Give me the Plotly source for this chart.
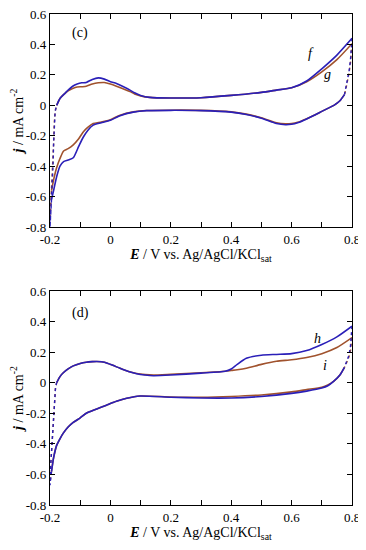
import plotly.graph_objects as go

# ---------------- Data ----------------
# Panel (c): curves f (blue) and g (brown)
c_ano_E = [-0.178, -0.167, -0.155, -0.14, -0.125, -0.11, -0.095, -0.08, -0.06, -0.04, -0.02, 0.0, 0.02, 0.04,
           0.065, 0.08, 0.1, 0.13, 0.2, 0.3, 0.4, 0.5, 0.55, 0.6, 0.65, 0.7, 0.75, 0.8]
f_ano_j = [0.0, 0.045, 0.07, 0.1, 0.125, 0.14, 0.148, 0.15, 0.17, 0.18, 0.172, 0.155, 0.143, 0.125,
           0.1, 0.082, 0.065, 0.052, 0.048, 0.05, 0.065, 0.085, 0.1, 0.115, 0.16, 0.24, 0.33, 0.44]
g_ano_j = [0.0, 0.045, 0.07, 0.095, 0.11, 0.12, 0.122, 0.125, 0.14, 0.148, 0.15, 0.14, 0.126, 0.11,
           0.09, 0.075, 0.062, 0.052, 0.048, 0.05, 0.065, 0.085, 0.1, 0.115, 0.155, 0.22, 0.3, 0.405]

c_cat_E = [0.775, 0.76, 0.74, 0.72, 0.7, 0.68, 0.65, 0.62, 0.6, 0.58, 0.55, 0.5, 0.45, 0.4, 0.3, 0.2, 0.12,
           0.076, 0.032, 0.0, -0.03, -0.057, -0.075, -0.09, -0.105, -0.123, -0.14, -0.155, -0.167, -0.178, -0.187, -0.195]
f_cat_j = [0.07, 0.03, 0.0, -0.02, -0.04, -0.06, -0.09, -0.115, -0.125, -0.128, -0.12, -0.085, -0.06, -0.045,
           -0.035, -0.033, -0.035, -0.045, -0.068, -0.098, -0.115, -0.13, -0.165, -0.21, -0.27, -0.345, -0.36,
           -0.37, -0.4, -0.47, -0.55, -0.62]
g_cat_j = [0.07, 0.03, 0.0, -0.02, -0.04, -0.06, -0.088, -0.112, -0.12, -0.122, -0.115, -0.082, -0.058, -0.043,
           -0.033, -0.032, -0.034, -0.043, -0.065, -0.095, -0.11, -0.12, -0.145, -0.175, -0.22, -0.26, -0.285,
           -0.3, -0.35, -0.41, -0.48, -0.56]

c_left_E = [-0.195, -0.2, -0.199, -0.195, -0.19, -0.188, -0.186, -0.183, -0.178]
f_left_j = [-0.62, -0.8, -0.7, -0.55, -0.4, -0.25, -0.12, -0.04, 0.0]
g_left_j = [-0.56, -0.75, -0.65, -0.52, -0.4, -0.25, -0.12, -0.04, 0.0]
c_right_E = [0.8, 0.798, 0.795, 0.79, 0.785, 0.78, 0.775]
f_right_j = [0.44, 0.38, 0.3, 0.22, 0.16, 0.11, 0.07]
g_right_j = [0.405, 0.35, 0.28, 0.21, 0.15, 0.11, 0.07]

# Panel (d): curves h (blue) and i (brown)
d_ano_E = [-0.178, -0.167, -0.156, -0.14, -0.123, -0.1, -0.08, -0.06, -0.045, -0.03, -0.01, 0.01, 0.032, 0.06,
           0.087, 0.115, 0.142, 0.2, 0.3, 0.38, 0.4, 0.42, 0.45, 0.5, 0.55, 0.6, 0.65, 0.7, 0.75, 0.8]
h_ano_j = [0.0, 0.04, 0.065, 0.09, 0.11, 0.126, 0.134, 0.138, 0.139, 0.137, 0.128, 0.112, 0.094, 0.073,
           0.058, 0.05, 0.046, 0.05, 0.063, 0.075, 0.09, 0.12, 0.16, 0.18, 0.185, 0.19, 0.21, 0.25, 0.3, 0.37]
i_ano_j = [0.0, 0.04, 0.065, 0.09, 0.11, 0.126, 0.134, 0.138, 0.139, 0.137, 0.128, 0.112, 0.094, 0.073,
           0.06, 0.053, 0.05, 0.055, 0.065, 0.075, 0.08, 0.085, 0.095, 0.12, 0.14, 0.15, 0.165, 0.19, 0.23, 0.295]

d_cat_E = [0.775, 0.76, 0.74, 0.72, 0.7, 0.65, 0.6, 0.5, 0.4, 0.3, 0.2, 0.098, 0.054, 0.02, -0.012, -0.05,
           -0.08, -0.1, -0.123, -0.14, -0.156, -0.168, -0.178, -0.188, -0.195]
h_cat_j = [0.1, 0.05, 0.01, -0.02, -0.035, -0.055, -0.07, -0.09, -0.1, -0.1, -0.095, -0.087, -0.102, -0.122,
           -0.146, -0.175, -0.2, -0.23, -0.26, -0.29, -0.33, -0.37, -0.41, -0.49, -0.58]
i_cat_j = [0.1, 0.05, 0.01, -0.015, -0.03, -0.045, -0.06, -0.08, -0.09, -0.095, -0.093, -0.087, -0.102, -0.122,
           -0.146, -0.175, -0.2, -0.23, -0.26, -0.29, -0.33, -0.37, -0.41, -0.49, -0.58]

d_left_E = [-0.195, -0.2, -0.198, -0.193, -0.188, -0.185, -0.182, -0.178]
h_left_j = [-0.58, -0.67, -0.55, -0.4, -0.25, -0.12, -0.04, 0.0]
i_left_j = [-0.58, -0.65, -0.55, -0.4, -0.25, -0.12, -0.04, 0.0]
d_right_E = [0.8, 0.798, 0.795, 0.79, 0.785, 0.78, 0.775]
h_right_j = [0.37, 0.3, 0.24, 0.18, 0.15, 0.12, 0.1]
i_right_j = [0.295, 0.25, 0.21, 0.17, 0.14, 0.12, 0.1]

x_tickvals = [-0.2, 0, 0.2, 0.4, 0.6, 0.8]
x_ticktext = ["-0.2", "0", "0.2", "0.4", "0.6", "0.8"]
x_minor = [-0.1, 0.1, 0.3, 0.5, 0.7]
y_tickvals = [-0.8, -0.6, -0.4, -0.2, 0, 0.2, 0.4, 0.6]
y_ticktext = ["-0.8", "-0.6", "-0.4", "-0.2", "0", "0.2", "0.4", "0.6"]

BLUE = "#2a1fb8"
BROWN = "#a0522d"
FONT = "Liberation Serif, Times New Roman, DejaVu Serif, serif"

fig = go.Figure()


def add_curve(xa, ya, ano_E, ano_j, cat_E, cat_j, left_E, left_j, right_E, right_j, color):
    fig.add_trace(go.Scatter(x=ano_E, y=ano_j, mode="lines", line=dict(color=color, width=1.6, shape="spline", smoothing=0.6),
                             xaxis=xa, yaxis=ya, showlegend=False, hoverinfo="skip"))
    fig.add_trace(go.Scatter(x=cat_E, y=cat_j, mode="lines", line=dict(color=color, width=1.6, shape="spline", smoothing=0.6),
                             xaxis=xa, yaxis=ya, showlegend=False, hoverinfo="skip"))
    for ex, jy in ((left_E, left_j), (right_E, right_j)):
        fig.add_trace(go.Scatter(x=ex, y=jy, mode="lines", line=dict(color=color, width=1.4, dash="dot"),
                                 xaxis=xa, yaxis=ya, showlegend=False, hoverinfo="skip"))


add_curve("x", "y", c_ano_E, g_ano_j, c_cat_E, g_cat_j, c_left_E, g_left_j, c_right_E, g_right_j, BROWN)
add_curve("x", "y", c_ano_E, f_ano_j, c_cat_E, f_cat_j, c_left_E, f_left_j, c_right_E, f_right_j, BLUE)
add_curve("x2", "y2", d_ano_E, i_ano_j, d_cat_E, i_cat_j, d_left_E, i_left_j, d_right_E, i_right_j, BROWN)
add_curve("x2", "y2", d_ano_E, h_ano_j, d_cat_E, h_cat_j, d_left_E, h_left_j, d_right_E, h_right_j, BLUE)

xtitle = "<b><i>E</i></b> / V vs. Ag/AgCl/KCl<sub>sat</sub>"
ytitle = "<b><i>j</i></b> / mA cm<sup>-2</sup>"


def xaxis_cfg(anchor):
    return dict(range=[-0.2, 0.8], anchor=anchor, domain=[0, 1],
                tickmode="array", tickvals=x_tickvals, ticktext=x_ticktext,
                ticks="inside", ticklen=5, tickwidth=1, tickcolor="black",
                minor=dict(tickmode="array", tickvals=x_minor, ticks="inside", ticklen=5, tickcolor="black"),
                showline=True, linecolor="black", linewidth=1.2, mirror="allticks",
                showgrid=False, zeroline=False, ticklabeloverflow="allow",
                tickfont=dict(family=FONT, size=13, color="black"),
                title=dict(text=xtitle, font=dict(family=FONT, size=14, color="black"), standoff=2))


def yaxis_cfg(anchor, domain):
    return dict(range=[-0.8, 0.6], anchor=anchor, domain=domain,
                tickmode="array", tickvals=y_tickvals, ticktext=y_ticktext,
                ticks="inside", ticklen=5, tickwidth=1, tickcolor="black",
                showline=True, linecolor="black", linewidth=1.2, mirror="allticks",
                showgrid=False, zeroline=False, ticklabeloverflow="allow",
                tickfont=dict(family=FONT, size=13, color="black"),
                title=dict(text=ytitle, font=dict(family=FONT, size=14, color="black"), standoff=4))


# page has an 8px body margin: figure is 358x542 placed at (8, 8)
fig.update_layout(
    width=358, height=542,
    margin=dict(l=42, r=14, t=0, b=0, autoexpand=False),
    paper_bgcolor="white", plot_bgcolor="white",
    font=dict(family=FONT, color="black"),
    xaxis=xaxis_cfg("y"),
    yaxis=yaxis_cfg("x", [0.5959, 0.9889]),
    xaxis2=xaxis_cfg("y2"),
    yaxis2=yaxis_cfg("x2", [0.0830, 0.4779]),
)

ann_font = dict(family=FONT, size=14, color="black")
labels = [
    ("x", "y", -0.1, 0.475, "(c)"),
    ("x", "y", 0.664, 0.34, "<i>f</i>"),
    ("x", "y", 0.72, 0.2, "<i>g</i>"),
    ("x2", "y2", -0.1, 0.455, "(d)"),
    ("x2", "y2", 0.687, 0.29, "<i>h</i>"),
    ("x2", "y2", 0.71, 0.113, "<i>i</i>"),
]
for xr, yr, xv, yv, t in labels:
    fig.add_annotation(x=xv, y=yv, xref=xr, yref=yr, text=t, showarrow=False, font=ann_font)

fig.write_html("out.html")
